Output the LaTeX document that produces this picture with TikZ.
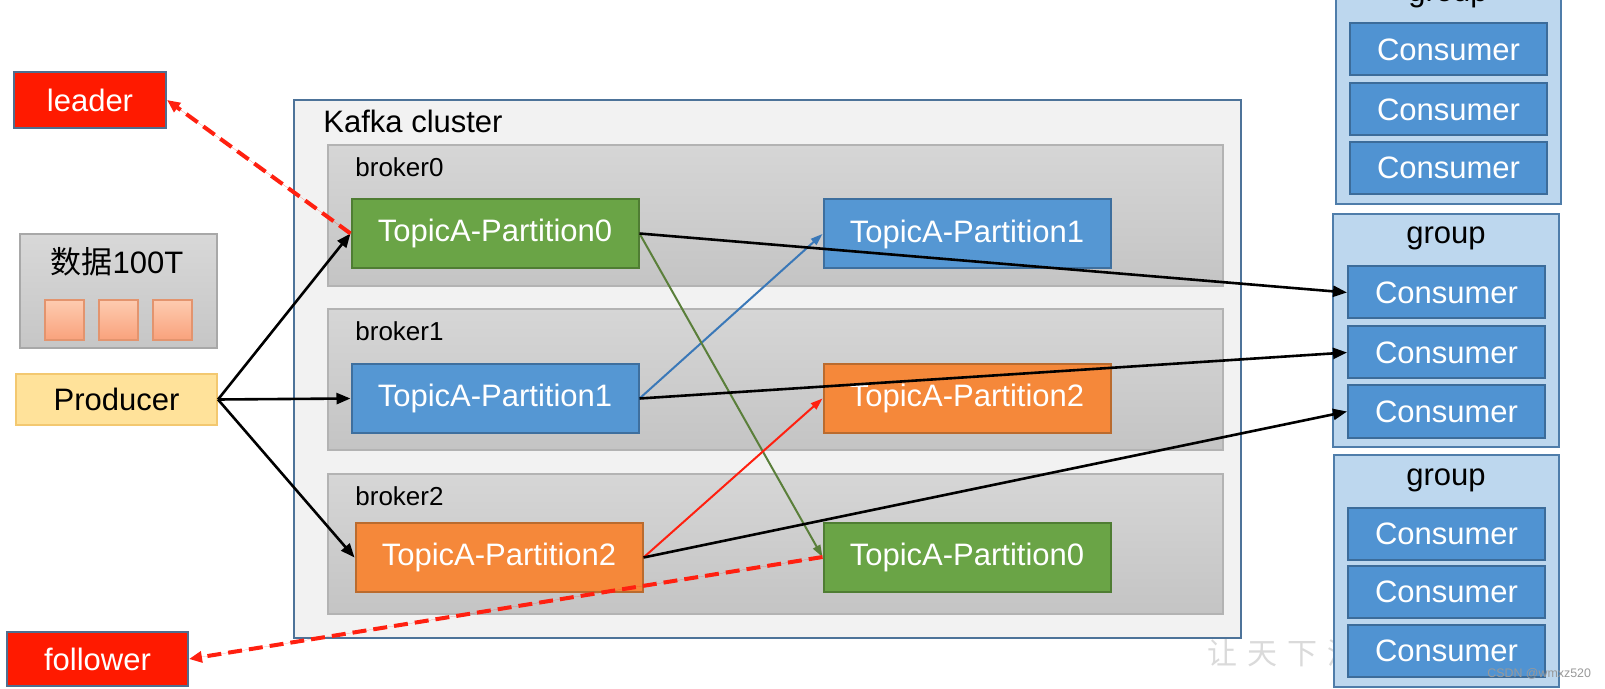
\documentclass[tikz,border=0pt]{standalone}
\usepackage{fontspec}
\setmainfont{Liberation Sans}
\newfontfamily\cjk{Noto Sans CJK SC}
\usetikzlibrary{fit,arrows.meta}
\definecolor{pgreen}{HTML}{6AA446}
\definecolor{pgreenb}{HTML}{4F7D33}
\definecolor{pblue}{HTML}{5597D3}
\definecolor{pblueb}{HTML}{3E6F9E}
\definecolor{porange}{HTML}{F5883A}
\definecolor{porangeb}{HTML}{BA6B2E}
\definecolor{kred}{HTML}{FF1A00}
\definecolor{kredb}{HTML}{4F6E8F}
\definecolor{kafkafill}{HTML}{F2F2F2}
\definecolor{kafkab}{HTML}{4D7399}
\definecolor{bandtop}{HTML}{D6D6D6}
\definecolor{bandbot}{HTML}{C4C4C4}
\definecolor{bandb}{HTML}{B3B3B3}
\definecolor{grpfill}{HTML}{BDD7EE}
\definecolor{grpb}{HTML}{4F7DAA}
\definecolor{consfill}{HTML}{5093D2}
\definecolor{consb}{HTML}{3C6C9A}
\definecolor{prodfill}{HTML}{FFE29A}
\definecolor{prodb}{HTML}{F3C870}
\definecolor{sqtop}{HTML}{FDCBB0}
\definecolor{sqbot}{HTML}{F9A27C}
\definecolor{sqb}{HTML}{E3946E}
\definecolor{datatop}{HTML}{D8D8D8}
\definecolor{databot}{HTML}{C6C6C6}
\definecolor{datab}{HTML}{A8A8A8}
\definecolor{barrow}{HTML}{3A78B8}
\definecolor{garrow}{HTML}{5A7F3A}
\definecolor{rarrow}{HTML}{FF2010}
\definecolor{wmark}{HTML}{DADADA}
\tikzset{
  box/.style={inner sep=0pt, line width=1pt},
  part/.style={box, text=white, font=\fontsize{15.5}{18}\selectfont, minimum height=34.5pt, minimum width=143.5pt},
  gpart/.style={part, fill=pgreen, draw=pgreenb},
  bpart/.style={part, fill=pblue, draw=pblueb},
  opart/.style={part, fill=porange, draw=porangeb},
  redbox/.style={box, fill=kred, draw=kredb, text=white, font=\fontsize{15.5}{18}\selectfont},
  band/.style={inner sep=0pt, line width=0.6pt, draw=bandb, top color=bandtop, bottom color=bandbot},
  bandlabel/.style={inner sep=0pt, anchor=west, font=\fontsize{13}{15}\selectfont},
  grpbox/.style={box, fill=grpfill, draw=grpb},
  grplabel/.style={inner sep=0pt, anchor=base, font=\fontsize{15.5}{18}\selectfont},
  cons/.style={box, fill=consfill, draw=consb, text=white, font=\fontsize{15.5}{18}\selectfont, minimum width=98.5pt, minimum height=26pt},
  sq/.style={inner sep=0pt, line width=0.6pt, draw=sqb, top color=sqtop, bottom color=sqbot},
  blk/.style={line width=1.3pt, -{Triangle[length=7pt,width=5.5pt]}},
  thinarr/.style={line width=1pt, -{Triangle[length=6pt,width=4pt]}},
  dsh/.style={draw=rarrow, line width=2pt, dash pattern=on 7pt off 3.5pt, -{Triangle[length=6.5pt,width=5.5pt]}}
}
\begin{document}
\begin{tikzpicture}[x=0.5pt,y=-0.5pt]
\useasboundingbox (0,0) rectangle (1605,689);
\clip (0,0) rectangle (1605,689);
\fill[white] (0,0) rectangle (1605,689);

% Kafka cluster
\node[box, fill=kafkafill, draw=kafkab, fit={(294,100) (1241,638)}] (kafka) {};
\node[inner sep=0pt, anchor=west, font=\fontsize{15.5}{18}\selectfont] (kafkalabel) at (323,121) {Kafka cluster};

% brokers
\node[band, fit={(328,145) (1223,286)}] (b0) {};
\node[band, fit={(328,309) (1223,450)}] (b1) {};
\node[band, fit={(328,474) (1223,614)}] (b2) {};
\node[bandlabel] (b0l) at (355,167) {broker0};
\node[bandlabel] (b1l) at (355,331) {broker1};
\node[bandlabel] (b2l) at (355,496) {broker2};

% partitions
\node[gpart] (p0l) at (495,233.5) {TopicA-Partition0};
\node[bpart] (p1r) at (967,234) {TopicA-Partition1};
\node[bpart] (p1l) at (495,398.5) {TopicA-Partition1};
\node[opart] (p2r) at (967,398.5) {TopicA-Partition2};
\node[opart] (p2l) at (499,557.5) {TopicA-Partition2};
\node[gpart] (p0r) at (967,557) {TopicA-Partition0};

% left side
\node[redbox, minimum width=76pt, minimum height=28pt] (leader) at (90,100) {leader};
\node[redbox, minimum width=90.5pt, minimum height=27pt] (follower) at (97.5,659) {follower};
\node[inner sep=0pt, line width=0.6pt, draw=datab, top color=datatop, bottom color=databot, fit={(20,234) (217,348)}] (data) {};
\node[inner sep=0pt, font=\fontsize{15.5}{18}\selectfont] (datalabel) at (117,262) {{\cjk 数据}100T};
\node[sq, fit={(45,300) (84,340)}] (sq1) {};
\node[sq, fit={(99,300) (138,340)}] (sq2) {};
\node[sq, fit={(153,300) (192,340)}] (sq3) {};
\node[box, fill=prodfill, draw=prodb, font=\fontsize{15.5}{18}\selectfont, minimum width=100.5pt, minimum height=25.5pt] (producer) at (116.5,399.5) {Producer};

% watermark
\node[inner sep=0pt, anchor=west, text=wmark, font=\fontsize{15}{18}\selectfont] (wm) at (1207,653) {\cjk 让\hspace{5pt}天\hspace{5pt}下\hspace{5pt}没};

% consumer groups
\node[grpbox, fit={(1336,-28) (1561,204)}] (g1) {};
\node[grplabel] (g1l) at (1448,2) {group};
\node[cons] (g1c1) at (1448.5,49.5) {Consumer};
\node[cons] (g1c2) at (1448.5,109.5) {Consumer};
\node[cons] (g1c3) at (1448.5,168) {Consumer};

\node[grpbox, fit={(1333,214) (1559,447)}] (g2) {};
\node[grplabel] (g2l) at (1446,244) {group};
\node[cons] (g2c1) at (1446.5,292.5) {Consumer};
\node[cons] (g2c2) at (1446.5,352.5) {Consumer};
\node[cons] (g2c3) at (1446.5,411.5) {Consumer};

\node[grpbox, fit={(1334,455) (1559,687)}] (g3) {};
\node[grplabel] (g3l) at (1446,485) {group};
\node[cons] (g3c1) at (1446.5,533.5) {Consumer};
\node[cons] (g3c2) at (1446.5,592) {Consumer};
\node[cons] (g3c3) at (1446.5,650.5) {Consumer};

\node[inner sep=0pt, anchor=west, text=black!40, font=\fontsize{6.2}{7}\selectfont] (csdn) at (1487,674) {CSDN @wmxz520};

% producer arrows
\draw[blk] (producer.east) -- (p0l.west);
\draw[blk] (producer.east) -- (p1l.west);
\draw[blk] (producer.east) -- (p2l.west);

% replication arrows
\draw[thinarr, draw=barrow, fill=barrow] (p1l.east) -- (p1r.west);
\draw[thinarr, draw=garrow, fill=garrow] (p0l.east) -- (p0r.west);
\draw[thinarr, draw=rarrow, fill=rarrow] (p2l.east) -- (p2r.west);

% consumer arrows
\draw[blk] (p0l.east) -- (g2c1.west);
\draw[blk] (p1l.east) -- (g2c2.west);
\draw[blk] (p2l.east) -- (g2c3.west);

% leader / follower
\draw[dsh, fill=rarrow] (p0l.west) -- (leader.east);
\draw[dsh, fill=rarrow] (p0r.west) -- (follower.east);
\end{tikzpicture}
\end{document}
